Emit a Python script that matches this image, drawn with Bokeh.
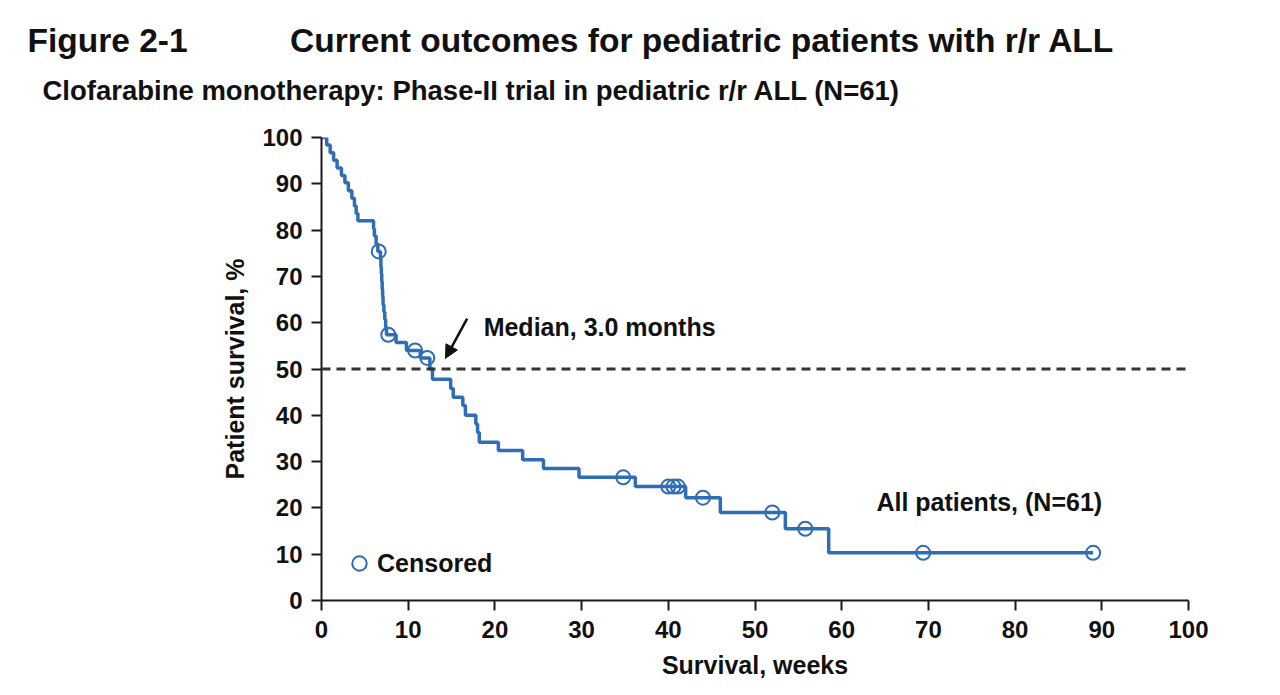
from bokeh.plotting import figure
from bokeh.models import Range1d, Span, Label, Arrow, NormalHead, Legend, LegendItem, Title
from bokeh.embed import file_html
from bokeh.resources import INLINE

# Kaplan-Meier step data (weeks, survival %)
km_weeks = [0, 0.6, 1.0, 1.4, 1.8, 2.3, 2.7, 3.1, 3.5, 3.8, 4.0, 4.2,
            6.0, 6.1, 6.3, 6.5, 6.8, 6.85, 6.9, 6.95, 7.0, 7.05, 7.1, 7.2, 7.3, 7.4, 7.5,
            8.6, 9.8, 11.4, 12.5, 12.8, 14.9, 15.2, 16.3, 16.6, 17.8, 18.0, 18.2,
            20.4, 23.2, 25.6, 29.7, 36.2, 42.0, 46.0, 53.5, 58.5, 89.0]
km_survival = [100, 98.4, 96.7, 95.1, 93.4, 91.8, 90.2, 88.5, 86.9, 85.2, 83.6, 82.0,
               80.3, 78.7, 77.0, 75.4, 73.8, 72.1, 70.5, 68.9, 67.2, 65.6, 63.9, 62.3, 60.7, 59.0, 57.4,
               55.7, 54.0, 52.4, 50.0, 47.8, 45.8, 43.9, 42.1, 40.0, 38.1, 36.3, 34.2,
               32.4, 30.4, 28.5, 26.6, 24.6, 22.2, 19.0, 15.5, 10.3, 10.3]

# Censored observations
censor_weeks = [6.6, 7.7, 10.8, 12.2, 34.8, 40.0, 40.6, 41.1, 44.0, 52.0, 55.8, 69.4, 89.0]
censor_survival = [75.4, 57.4, 54.0, 52.4, 26.6, 24.6, 24.6, 24.6, 22.2, 19.0, 15.5, 10.3, 10.3]

ticks = [0, 10, 20, 30, 40, 50, 60, 70, 80, 90, 100]
median_level = 50

title_left = "Figure 2-1"
title_right = "Current outcomes for pediatric patients with r/r ALL"
subtitle = "Clofarabine monotherapy: Phase-II trial in pediatric r/r ALL (N=61)"
x_label = "Survival, weeks"
y_label = "Patient survival, %"
median_text = "Median, 3.0 months"
series_text = "All patients, (N=61)"
legend_text = "Censored"

BLUE = "#2F6DB5"
INK = "#111111"
FONT = "Liberation Sans"

p = figure(frame_width=867, frame_height=463,
           min_border_left=321, min_border_right=84, min_border_top=137, min_border_bottom=87,
           x_range=Range1d(0, 100), y_range=Range1d(0, 100),
           output_backend="svg", toolbar_location=None)
p.outline_line_color = None
p.xgrid.visible = False
p.ygrid.visible = False
p.background_fill_color = "white"
p.border_fill_color = "white"

for ax in (p.xaxis[0], p.yaxis[0]):
    ax.ticker = ticks
    ax.minor_tick_line_color = None
    ax.major_tick_in = 0
    ax.major_tick_out = 10
    ax.axis_line_width = 2
    ax.axis_line_color = "#1a1a1a"
    ax.major_tick_line_width = 2
    ax.major_tick_line_color = "#1a1a1a"
    ax.major_label_text_font = FONT
    ax.major_label_text_font_style = "bold"
    ax.major_label_text_font_size = "24px"
    ax.major_label_text_color = INK
    ax.axis_label_text_font = FONT
    ax.axis_label_text_font_style = "bold"
    ax.axis_label_text_font_size = "25px"
    ax.axis_label_text_color = INK

p.xaxis.axis_label = x_label
p.yaxis.axis_label = y_label
p.xaxis.major_label_standoff = 10
p.yaxis.major_label_standoff = 9
p.xaxis.axis_label_standoff = 10
p.yaxis.axis_label_standoff = 10

# titles (subtitle first: later additions sit further out)
p.add_layout(Title(text=subtitle, align="left", offset=42 - 321, standoff=64,
                   text_font=FONT, text_font_style="bold", text_font_size="27.5px",
                   text_color=INK), "above")
p.add_layout(Title(text=title_left + "\u00a0" * 11 + title_right, align="left",
                   offset=27 - 321, standoff=-36,
                   text_font=FONT, text_font_style="bold", text_font_size="33.5px",
                   text_color=INK), "above")

p.add_layout(Span(location=median_level, dimension="width", line_color="#333333",
                  line_width=3, line_dash="9 6"))

p.step(km_weeks, km_survival, mode="after", line_color=BLUE, line_width=3.5)
cens = p.scatter(censor_weeks, censor_survival, marker="circle", size=14,
                 fill_color=None, line_color=BLUE, line_width=2)

legend = Legend(items=[LegendItem(label=legend_text, renderers=[cens])],
                location=(20, 19), padding=0, margin=0, spacing=0,
                glyph_width=36, glyph_height=36, label_standoff=0,
                border_line_color=None, background_fill_alpha=0,
                label_text_font=FONT, label_text_font_style="bold",
                label_text_font_size="25px", label_text_color=INK)
p.add_layout(legend)

# arrow pointing to median
arrow_x0, arrow_y0, arrow_x1, arrow_y1 = 16.8, 60.9, 14.3, 52.3
p.add_layout(Arrow(end=NormalHead(size=13, fill_color=INK, line_color=INK),
                   x_start=arrow_x0, y_start=arrow_y0, x_end=arrow_x1, y_end=arrow_y1,
                   line_color=INK, line_width=2.5))

def lab(x, y, t, size, **kw):
    p.add_layout(Label(x=x, y=y, text=t, text_font=FONT, text_font_style="bold",
                       text_font_size=size, text_color=INK, text_baseline="alphabetic", **kw))

lab(18.7, 59.0, median_text, "25px")
lab(64.0, 21.2, series_text, "25px")

open("out.html", "w").write(file_html(p, INLINE))
